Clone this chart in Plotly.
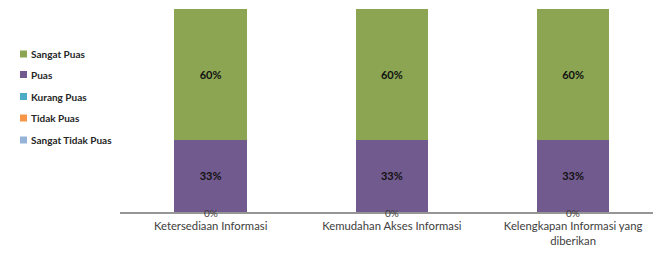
import plotly.graph_objects as go

categories = ["Ketersediaan Informasi", "Kemudahan Akses Informasi", "Kelengkapan Informasi yang<br>diberikan"]
series_names = ["Sangat Tidak Puas", "Tidak Puas", "Kurang Puas", "Puas", "Sangat Puas"]
sangat_tidak_puas = [0, 0, 0]
tidak_puas = [0, 0, 0]
kurang_puas = [0, 0, 0]
puas = [33, 33, 33]
sangat_puas = [60, 60, 60]
colors = ["#95B3D7", "#F79646", "#4BACC6", "#715A8E", "#8BA553"]

values = [sangat_tidak_puas, tidak_puas, kurang_puas, puas, sangat_puas]

# page body has an 8px margin; size the figure so it fits the 661x263 window
OFF = 8
W, H = 661 - OFF, 263 - OFF
L, R = 120 - OFF, 0
T = 9 - OFF
B = H - (212 - OFF)
pw, ph = W - L - R, H - T - B

def px_to_paper(x, y):
    # x, y in window pixels
    x -= OFF
    y -= OFF
    return (x - L) / pw, (H - B - y) / ph

fig = go.Figure()
for i, (name, vals, col) in enumerate(zip(series_names, values, colors)):
    fig.add_trace(go.Bar(
        x=categories, y=vals, name=name, marker_color=col,
        marker_line_width=0,
        text=[f"{v}%" if v > 0 else "" for v in vals],
        textposition="inside", insidetextanchor="middle",
        textfont=dict(family="Lato", size=11, color="#111111", weight="bold"),
        width=0.4, showlegend=False,
    ))

annotations = []
# zero labels at the baseline (from the zero-valued series)
for k, cat in enumerate(categories):
    annotations.append(dict(
        x=cat, y=sangat_tidak_puas[k], xref="x", yref="y",
        text=f"{sangat_tidak_puas[k]}%", showarrow=False,
        xanchor="center", yanchor="middle", yshift=-1,
        font=dict(family="Lato", size=10, color="#404040"),
    ))

# custom legend (top item = last series)
legend_y = [54, 74.5, 96.5, 118, 140]
shapes = []
for k, idx in enumerate(reversed(range(len(series_names)))):
    cy = legend_y[k]
    x0, y0 = px_to_paper(20, cy + 3.5)
    x1, y1 = px_to_paper(27, cy - 3.5)
    shapes.append(dict(type="rect", xref="paper", yref="paper",
                       x0=x0, x1=x1, y0=y0, y1=y1,
                       fillcolor=colors[idx], line_width=0))
    tx, ty = px_to_paper(28.5, cy)
    annotations.append(dict(text=series_names[idx], xref="paper", yref="paper",
                            x=tx, y=ty, xanchor="left", yanchor="middle",
                            showarrow=False,
                            font=dict(family="Lato", size=10, color="#262626", weight="bold")))

fig.update_layout(
    width=W, height=H,
    barmode="stack",
    margin=dict(l=L, r=R, t=T, b=B),
    plot_bgcolor="white", paper_bgcolor="white",
    showlegend=False,
    shapes=shapes, annotations=annotations,
)
fig.update_xaxes(
    showline=True, linecolor="#969696", linewidth=1.5,
    tickfont=dict(family="Lato", size=11.3, color="#404040"),
    ticks="", showgrid=False, automargin=False,
    ticklabelstandoff=3,
    range=[-0.5, 2.485],
)
fig.update_yaxes(visible=False, range=[0, 93], showgrid=False, automargin=False)

fig.write_html("out.html")
